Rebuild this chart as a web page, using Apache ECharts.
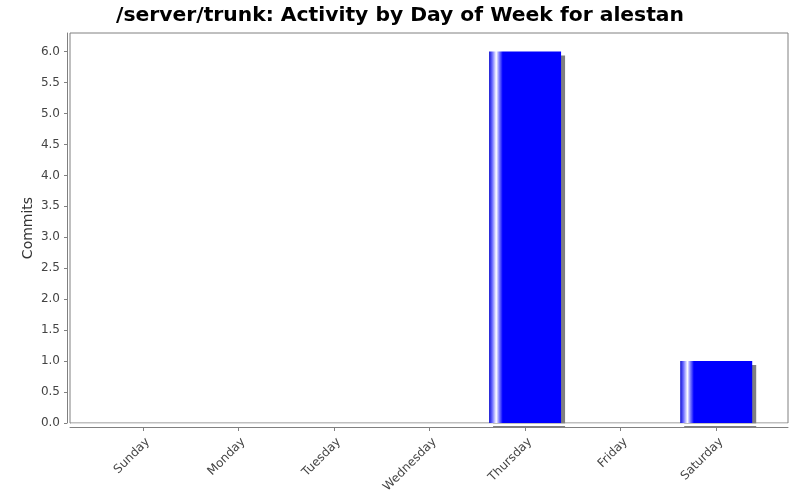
<!DOCTYPE html>
<html>
<head>
<meta charset="utf-8">
<script src="https://cdn.jsdelivr.net/npm/echarts@6/dist/echarts.min.js"></script>
<style>
html,body{margin:0;padding:0;background:#fff;}
#chart{width:800px;height:500px;}
</style>
</head>
<body>
<div id="chart"></div>
<script>
var titleText = '/server/trunk: Activity by Day of Week for alestan';
var days = ['Sunday','Monday','Tuesday','Wednesday','Thursday','Friday','Saturday'];
var commits = [0, 0, 0, 0, 6, 0, 1];
var yTicks = [0, 0.5, 1, 1.5, 2, 2.5, 3, 3.5, 4, 4.5, 5, 5.5, 6];
var yMax = 6.3;

var font = 'DejaVu Sans, sans-serif';
var chart = echarts.init(document.getElementById('chart'), null, {renderer: 'canvas'});
chart.setOption({
  backgroundColor: '#ffffff',
  animation: false,
  title: {
    text: titleText,
    left: 'center',
    top: 1,
    textStyle: {fontFamily: font, fontWeight: 'bold', fontSize: 20.3, color: '#000'}
  },
  grid: [
    {left: 70, right: 12, top: 33, bottom: 77, show: true, borderColor: '#808080', borderWidth: 1, backgroundColor: '#ffffff'},
    {left: 95, right: 36, top: 33, bottom: 77},
    {left: 100, right: 31, top: 33, bottom: 77}
  ],
  xAxis: [
    {
      gridIndex: 0, type: 'value', min: 0, max: 1, offset: 4,
      axisLine: {show: true, onZero: false, lineStyle: {color: '#808080'}},
      axisTick: {show: false}, axisLabel: {show: false}, splitLine: {show: false}
    },
    {
      gridIndex: 1, type: 'category', data: days, offset: 4,
      axisLine: {show: false, onZero: false},
      axisTick: {show: true, alignWithLabel: true, length: 4, lineStyle: {color: '#808080'}},
      axisLabel: {show: false},
      splitLine: {show: false}
    },
    {
      gridIndex: 2, type: 'category', data: days, offset: 4,
      axisLine: {show: false, onZero: false},
      axisTick: {show: false},
      axisLabel: {rotate: 45, margin: 13, fontFamily: font, fontSize: 12, color: '#444'},
      splitLine: {show: false}
    }
  ],
  yAxis: [
    {
      gridIndex: 0, type: 'value', min: 0, max: yMax, offset: 3,
      name: 'Commits', nameLocation: 'middle', nameGap: 32, nameMoveOverlap: false,
      nameTextStyle: {fontFamily: font, fontSize: 14, color: '#333'},
      axisLine: {show: true, onZero: false, lineStyle: {color: '#808080'}},
      axisTick: {show: true, length: 3, customValues: yTicks, lineStyle: {color: '#808080'}},
      axisLabel: {customValues: yTicks, margin: 7, fontFamily: font, fontSize: 12, color: '#444',
        formatter: function (v) { return v.toFixed(1); }},
      splitLine: {show: false}
    },
    {gridIndex: 1, type: 'value', min: 0, max: yMax, show: false, splitLine: {show: false}},
    {gridIndex: 2, type: 'value', min: 0, max: yMax, show: false, splitLine: {show: false}}
  ],
  graphic: [{
    type: 'rect', z: 100,
    shape: {x: 71, y: 423.5, width: 717, height: 2.5},
    style: {fill: '#ffffff'}
  }],
  series: [{
    type: 'bar',
    xAxisIndex: 1, yAxisIndex: 1,
    data: commits,
    barWidth: 72,
    itemStyle: {
      color: {
        type: 'linear', x: 0, y: 0, x2: 1, y2: 0,
        colorStops: [
          {offset: 0, color: '#1010d0'},
          {offset: 0.04, color: '#6060ff'},
          {offset: 0.1, color: '#ffffff'},
          {offset: 0.14, color: '#8080ff'},
          {offset: 0.19, color: '#0000ff'},
          {offset: 1, color: '#0000ff'}
        ]
      },
      shadowColor: '#808080',
      shadowOffsetX: 4,
      shadowOffsetY: 4,
      shadowBlur: 0
    }
  }]
});
</script>
</body>
</html>
